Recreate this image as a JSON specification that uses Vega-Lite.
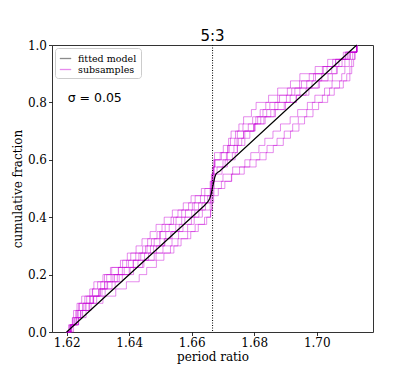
{
  "$schema": "https://vega.github.io/schema/vega-lite/v6.json",
  "width": 321,
  "height": 287,
  "autosize": "none",
  "padding": {"left": 52, "top": 45, "right": 42, "bottom": 42},
  "background": "white",
  "datasets": {
    "model": [
      {"x": 1.62, "y": 0}, {"x": 1.664, "y": 0.44}, {"x": 1.6652, "y": 0.454}, {"x": 1.6658, "y": 0.466},
      {"x": 1.6662, "y": 0.48}, {"x": 1.6665, "y": 0.495}, {"x": 1.6668, "y": 0.51}, {"x": 1.6671, "y": 0.526},
      {"x": 1.6674, "y": 0.54}, {"x": 1.6678, "y": 0.551}, {"x": 1.6684, "y": 0.557}, {"x": 1.669, "y": 0.561},
      {"x": 1.7128, "y": 1.0}
    ],
    "marks": [{"label": "5:3", "x": 1.66667, "y": 1.0}, {"label": "σ = 0.05", "x": 1.6203, "y": 0.814}],
    "sub": [
      {"s":1,"x":1.6200,"y":0},{"s":1,"x":1.6206,"y":0.025},{"s":1,"x":1.6218,"y":0.05},{"s":1,"x":1.6222,"y":0.075},{"s":1,"x":1.6233,"y":0.1},{"s":1,"x":1.6248,"y":0.125},{"s":1,"x":1.6274,"y":0.15},{"s":1,"x":1.6287,"y":0.175},{"s":1,"x":1.6316,"y":0.2},{"s":1,"x":1.6340,"y":0.225},{"s":1,"x":1.6379,"y":0.25},{"s":1,"x":1.6405,"y":0.275},{"s":1,"x":1.6443,"y":0.3},{"s":1,"x":1.6459,"y":0.325},{"s":1,"x":1.6489,"y":0.35},{"s":1,"x":1.6505,"y":0.375},{"s":1,"x":1.6534,"y":0.4},{"s":1,"x":1.6556,"y":0.425},{"s":1,"x":1.6590,"y":0.45},{"s":1,"x":1.6611,"y":0.475},{"s":1,"x":1.6642,"y":0.5},{"s":1,"x":1.6661,"y":0.525},{"s":1,"x":1.6665,"y":0.55},{"s":1,"x":1.6669,"y":0.575},{"s":1,"x":1.6673,"y":0.6},{"s":1,"x":1.6691,"y":0.625},{"s":1,"x":1.6701,"y":0.65},{"s":1,"x":1.6718,"y":0.675},{"s":1,"x":1.6726,"y":0.7},{"s":1,"x":1.6751,"y":0.725},{"s":1,"x":1.6766,"y":0.75},{"s":1,"x":1.6791,"y":0.775},{"s":1,"x":1.6806,"y":0.8},{"s":1,"x":1.6846,"y":0.825},{"s":1,"x":1.6875,"y":0.85},{"s":1,"x":1.6916,"y":0.875},{"s":1,"x":1.6946,"y":0.9},{"s":1,"x":1.6995,"y":0.925},{"s":1,"x":1.7035,"y":0.95},{"s":1,"x":1.7085,"y":0.975},{"s":1,"x":1.7128,"y":1},
      {"s":2,"x":1.6200,"y":0},{"s":2,"x":1.6211,"y":0.025},{"s":2,"x":1.6219,"y":0.05},{"s":2,"x":1.6232,"y":0.075},{"s":2,"x":1.6238,"y":0.1},{"s":2,"x":1.6264,"y":0.125},{"s":2,"x":1.6283,"y":0.15},{"s":2,"x":1.6309,"y":0.175},{"s":2,"x":1.6328,"y":0.2},{"s":2,"x":1.6365,"y":0.225},{"s":2,"x":1.6392,"y":0.25},{"s":2,"x":1.6431,"y":0.275},{"s":2,"x":1.6457,"y":0.3},{"s":2,"x":1.6480,"y":0.325},{"s":2,"x":1.6500,"y":0.35},{"s":2,"x":1.6528,"y":0.375},{"s":2,"x":1.6550,"y":0.4},{"s":2,"x":1.6580,"y":0.425},{"s":2,"x":1.6608,"y":0.45},{"s":2,"x":1.6641,"y":0.475},{"s":2,"x":1.6659,"y":0.5},{"s":2,"x":1.6663,"y":0.525},{"s":2,"x":1.6666,"y":0.55},{"s":2,"x":1.6669,"y":0.575},{"s":2,"x":1.6674,"y":0.6},{"s":2,"x":1.6711,"y":0.625},{"s":2,"x":1.6720,"y":0.65},{"s":2,"x":1.6738,"y":0.675},{"s":2,"x":1.6746,"y":0.7},{"s":2,"x":1.6781,"y":0.725},{"s":2,"x":1.6805,"y":0.75},{"s":2,"x":1.6840,"y":0.775},{"s":2,"x":1.6866,"y":0.8},{"s":2,"x":1.6903,"y":0.825},{"s":2,"x":1.6930,"y":0.85},{"s":2,"x":1.6968,"y":0.875},{"s":2,"x":1.6996,"y":0.9},{"s":2,"x":1.7033,"y":0.925},{"s":2,"x":1.7061,"y":0.95},{"s":2,"x":1.7098,"y":0.975},{"s":2,"x":1.7128,"y":1},
      {"s":3,"x":1.6200,"y":0},{"s":3,"x":1.6212,"y":0.025},{"s":3,"x":1.6226,"y":0.05},{"s":3,"x":1.6236,"y":0.075},{"s":3,"x":1.6252,"y":0.1},{"s":3,"x":1.6273,"y":0.125},{"s":3,"x":1.6302,"y":0.15},{"s":3,"x":1.6322,"y":0.175},{"s":3,"x":1.6353,"y":0.2},{"s":3,"x":1.6378,"y":0.225},{"s":3,"x":1.6413,"y":0.25},{"s":3,"x":1.6437,"y":0.275},{"s":3,"x":1.6468,"y":0.3},{"s":3,"x":1.6498,"y":0.325},{"s":3,"x":1.6517,"y":0.35},{"s":3,"x":1.6549,"y":0.375},{"s":3,"x":1.6568,"y":0.4},{"s":3,"x":1.6600,"y":0.425},{"s":3,"x":1.6622,"y":0.45},{"s":3,"x":1.6651,"y":0.475},{"s":3,"x":1.6660,"y":0.5},{"s":3,"x":1.6664,"y":0.525},{"s":3,"x":1.6668,"y":0.55},{"s":3,"x":1.6672,"y":0.575},{"s":3,"x":1.6707,"y":0.6},{"s":3,"x":1.6730,"y":0.625},{"s":3,"x":1.6746,"y":0.65},{"s":3,"x":1.6770,"y":0.675},{"s":3,"x":1.6786,"y":0.7},{"s":3,"x":1.6801,"y":0.725},{"s":3,"x":1.6811,"y":0.75},{"s":3,"x":1.6828,"y":0.775},{"s":3,"x":1.6837,"y":0.8},{"s":3,"x":1.6875,"y":0.825},{"s":3,"x":1.6906,"y":0.85},{"s":3,"x":1.6945,"y":0.875},{"s":3,"x":1.6976,"y":0.9},{"s":3,"x":1.7018,"y":0.925},{"s":3,"x":1.7051,"y":0.95},{"s":3,"x":1.7093,"y":0.975},{"s":3,"x":1.7128,"y":1},
      {"s":4,"x":1.6200,"y":0},{"s":4,"x":1.6214,"y":0.025},{"s":4,"x":1.6231,"y":0.05},{"s":4,"x":1.6244,"y":0.075},{"s":4,"x":1.6262,"y":0.1},{"s":4,"x":1.6286,"y":0.125},{"s":4,"x":1.6313,"y":0.15},{"s":4,"x":1.6345,"y":0.175},{"s":4,"x":1.6368,"y":0.2},{"s":4,"x":1.6403,"y":0.225},{"s":4,"x":1.6428,"y":0.25},{"s":4,"x":1.6462,"y":0.275},{"s":4,"x":1.6487,"y":0.3},{"s":4,"x":1.6514,"y":0.325},{"s":4,"x":1.6533,"y":0.35},{"s":4,"x":1.6560,"y":0.375},{"s":4,"x":1.6578,"y":0.4},{"s":4,"x":1.6610,"y":0.425},{"s":4,"x":1.6633,"y":0.45},{"s":4,"x":1.6661,"y":0.475},{"s":4,"x":1.6665,"y":0.5},{"s":4,"x":1.6668,"y":0.525},{"s":4,"x":1.6673,"y":0.55},{"s":4,"x":1.6697,"y":0.575},{"s":4,"x":1.6714,"y":0.6},{"s":4,"x":1.6739,"y":0.625},{"s":4,"x":1.6746,"y":0.65},{"s":4,"x":1.6760,"y":0.675},{"s":4,"x":1.6766,"y":0.7},{"s":4,"x":1.6798,"y":0.725},{"s":4,"x":1.6821,"y":0.75},{"s":4,"x":1.6853,"y":0.775},{"s":4,"x":1.6876,"y":0.8},{"s":4,"x":1.6915,"y":0.825},{"s":4,"x":1.6946,"y":0.85},{"s":4,"x":1.6985,"y":0.875},{"s":4,"x":1.7016,"y":0.9},{"s":4,"x":1.7048,"y":0.925},{"s":4,"x":1.7071,"y":0.95},{"s":4,"x":1.7103,"y":0.975},{"s":4,"x":1.7128,"y":1},
      {"s":5,"x":1.6200,"y":0},{"s":5,"x":1.6216,"y":0.025},{"s":5,"x":1.6237,"y":0.05},{"s":5,"x":1.6251,"y":0.075},{"s":5,"x":1.6272,"y":0.1},{"s":5,"x":1.6286,"y":0.125},{"s":5,"x":1.6307,"y":0.15},{"s":5,"x":1.6321,"y":0.175},{"s":5,"x":1.6342,"y":0.2},{"s":5,"x":1.6366,"y":0.225},{"s":5,"x":1.6398,"y":0.25},{"s":5,"x":1.6421,"y":0.275},{"s":5,"x":1.6452,"y":0.3},{"s":5,"x":1.6471,"y":0.325},{"s":5,"x":1.6497,"y":0.35},{"s":5,"x":1.6515,"y":0.375},{"s":5,"x":1.6542,"y":0.4},{"s":5,"x":1.6568,"y":0.425},{"s":5,"x":1.6602,"y":0.45},{"s":5,"x":1.6628,"y":0.475},{"s":5,"x":1.6662,"y":0.5},{"s":5,"x":1.6666,"y":0.525},{"s":5,"x":1.6670,"y":0.55},{"s":5,"x":1.6681,"y":0.575},{"s":5,"x":1.6700,"y":0.6},{"s":5,"x":1.6714,"y":0.625},{"s":5,"x":1.6735,"y":0.65},{"s":5,"x":1.6749,"y":0.675},{"s":5,"x":1.6770,"y":0.7},{"s":5,"x":1.6799,"y":0.725},{"s":5,"x":1.6835,"y":0.75},{"s":5,"x":1.6864,"y":0.775},{"s":5,"x":1.6900,"y":0.8},{"s":5,"x":1.6934,"y":0.825},{"s":5,"x":1.6975,"y":0.85},{"s":5,"x":1.7009,"y":0.875},{"s":5,"x":1.7050,"y":0.9},{"s":5,"x":1.7066,"y":0.925},{"s":5,"x":1.7090,"y":0.95},{"s":5,"x":1.7107,"y":0.975},{"s":5,"x":1.7128,"y":1},
      {"s":6,"x":1.6200,"y":0},{"s":6,"x":1.6216,"y":0.025},{"s":6,"x":1.6238,"y":0.05},{"s":6,"x":1.6249,"y":0.075},{"s":6,"x":1.6272,"y":0.1},{"s":6,"x":1.6296,"y":0.125},{"s":6,"x":1.6323,"y":0.15},{"s":6,"x":1.6355,"y":0.175},{"s":6,"x":1.6378,"y":0.2},{"s":6,"x":1.6414,"y":0.225},{"s":6,"x":1.6443,"y":0.25},{"s":6,"x":1.6480,"y":0.275},{"s":6,"x":1.6508,"y":0.3},{"s":6,"x":1.6537,"y":0.325},{"s":6,"x":1.6558,"y":0.35},{"s":6,"x":1.6587,"y":0.375},{"s":6,"x":1.6608,"y":0.4},{"s":6,"x":1.6634,"y":0.425},{"s":6,"x":1.6659,"y":0.45},{"s":6,"x":1.6664,"y":0.475},{"s":6,"x":1.6668,"y":0.5},{"s":6,"x":1.6672,"y":0.525},{"s":6,"x":1.6700,"y":0.55},{"s":6,"x":1.6731,"y":0.575},{"s":6,"x":1.6770,"y":0.6},{"s":6,"x":1.6789,"y":0.625},{"s":6,"x":1.6815,"y":0.65},{"s":6,"x":1.6834,"y":0.675},{"s":6,"x":1.6860,"y":0.7},{"s":6,"x":1.6884,"y":0.725},{"s":6,"x":1.6915,"y":0.75},{"s":6,"x":1.6939,"y":0.775},{"s":6,"x":1.6970,"y":0.8},{"s":6,"x":1.6994,"y":0.825},{"s":6,"x":1.7025,"y":0.85},{"s":6,"x":1.7049,"y":0.875},{"s":6,"x":1.7080,"y":0.9},{"s":6,"x":1.7090,"y":0.925},{"s":6,"x":1.7104,"y":0.95},{"s":6,"x":1.7115,"y":0.975},{"s":6,"x":1.7128,"y":1},
      {"s":7,"x":1.6200,"y":0},{"s":7,"x":1.6212,"y":0.025},{"s":7,"x":1.6226,"y":0.05},{"s":7,"x":1.6236,"y":0.075},{"s":7,"x":1.6252,"y":0.1},{"s":7,"x":1.6276,"y":0.125},{"s":7,"x":1.6307,"y":0.15},{"s":7,"x":1.6331,"y":0.175},{"s":7,"x":1.6362,"y":0.2},{"s":7,"x":1.6400,"y":0.225},{"s":7,"x":1.6447,"y":0.25},{"s":7,"x":1.6486,"y":0.275},{"s":7,"x":1.6532,"y":0.3},{"s":7,"x":1.6556,"y":0.325},{"s":7,"x":1.6587,"y":0.35},{"s":7,"x":1.6611,"y":0.375},{"s":7,"x":1.6641,"y":0.4},{"s":7,"x":1.6661,"y":0.425},{"s":7,"x":1.6666,"y":0.45},{"s":7,"x":1.6670,"y":0.475},{"s":7,"x":1.6685,"y":0.5},{"s":7,"x":1.6706,"y":0.525},{"s":7,"x":1.6727,"y":0.55},{"s":7,"x":1.6753,"y":0.575},{"s":7,"x":1.6786,"y":0.6},{"s":7,"x":1.6818,"y":0.625},{"s":7,"x":1.6841,"y":0.65},{"s":7,"x":1.6873,"y":0.675},{"s":7,"x":1.6896,"y":0.7},{"s":7,"x":1.6923,"y":0.725},{"s":7,"x":1.6941,"y":0.75},{"s":7,"x":1.6968,"y":0.775},{"s":7,"x":1.6986,"y":0.8},{"s":7,"x":1.7018,"y":0.825},{"s":7,"x":1.7041,"y":0.85},{"s":7,"x":1.7073,"y":0.875},{"s":7,"x":1.7096,"y":0.9},{"s":7,"x":1.7106,"y":0.925},{"s":7,"x":1.7112,"y":0.95},{"s":7,"x":1.7121,"y":0.975},{"s":7,"x":1.7128,"y":1},
      {"s":8,"x":1.6200,"y":0},{"s":8,"x":1.6222,"y":0.025},{"s":8,"x":1.6238,"y":0.05},{"s":8,"x":1.6262,"y":0.075},{"s":8,"x":1.6278,"y":0.1},{"s":8,"x":1.6316,"y":0.125},{"s":8,"x":1.6357,"y":0.15},{"s":8,"x":1.6391,"y":0.175},{"s":8,"x":1.6432,"y":0.2},{"s":8,"x":1.6456,"y":0.225},{"s":8,"x":1.6487,"y":0.25},{"s":8,"x":1.6511,"y":0.275},{"s":8,"x":1.6543,"y":0.3},{"s":8,"x":1.6566,"y":0.325},{"s":8,"x":1.6597,"y":0.35},{"s":8,"x":1.6621,"y":0.375},{"s":8,"x":1.6648,"y":0.4},{"s":8,"x":1.6660,"y":0.425},{"s":8,"x":1.6664,"y":0.45},{"s":8,"x":1.6667,"y":0.475},{"s":8,"x":1.6671,"y":0.5},{"s":8,"x":1.6695,"y":0.525},{"s":8,"x":1.6728,"y":0.55},{"s":8,"x":1.6768,"y":0.575},{"s":8,"x":1.6806,"y":0.6},{"s":8,"x":1.6838,"y":0.625},{"s":8,"x":1.6861,"y":0.65},{"s":8,"x":1.6893,"y":0.675},{"s":8,"x":1.6916,"y":0.7},{"s":8,"x":1.6943,"y":0.725},{"s":8,"x":1.6961,"y":0.75},{"s":8,"x":1.6988,"y":0.775},{"s":8,"x":1.7006,"y":0.8},{"s":8,"x":1.7035,"y":0.825},{"s":8,"x":1.7056,"y":0.85},{"s":8,"x":1.7085,"y":0.875},{"s":8,"x":1.7106,"y":0.9},{"s":8,"x":1.7112,"y":0.925},{"s":8,"x":1.7118,"y":0.95},{"s":8,"x":1.7123,"y":0.975},{"s":8,"x":1.7128,"y":1},
      {"s":9,"x":1.6200,"y":0},{"s":9,"x":1.6209,"y":0.025},{"s":9,"x":1.6221,"y":0.05},{"s":9,"x":1.6229,"y":0.075},{"s":9,"x":1.6241,"y":0.1},{"s":9,"x":1.6258,"y":0.125},{"s":9,"x":1.6282,"y":0.15},{"s":9,"x":1.6299,"y":0.175},{"s":9,"x":1.6321,"y":0.2},{"s":9,"x":1.6344,"y":0.225},{"s":9,"x":1.6372,"y":0.25},{"s":9,"x":1.6394,"y":0.275},{"s":9,"x":1.6422,"y":0.3},{"s":9,"x":1.6441,"y":0.325},{"s":9,"x":1.6467,"y":0.35},{"s":9,"x":1.6486,"y":0.375},{"s":9,"x":1.6512,"y":0.4},{"s":9,"x":1.6538,"y":0.425},{"s":9,"x":1.6573,"y":0.45},{"s":9,"x":1.6598,"y":0.475},{"s":9,"x":1.6631,"y":0.5},{"s":9,"x":1.6659,"y":0.525},{"s":9,"x":1.6663,"y":0.55},{"s":9,"x":1.6666,"y":0.575},{"s":9,"x":1.6669,"y":0.6},{"s":9,"x":1.6673,"y":0.625},{"s":9,"x":1.6715,"y":0.65},{"s":9,"x":1.6724,"y":0.675},{"s":9,"x":1.6740,"y":0.7},{"s":9,"x":1.6764,"y":0.725},{"s":9,"x":1.6795,"y":0.75},{"s":9,"x":1.6819,"y":0.775},{"s":9,"x":1.6850,"y":0.8},{"s":9,"x":1.6881,"y":0.825},{"s":9,"x":1.6920,"y":0.85},{"s":9,"x":1.6951,"y":0.875},{"s":9,"x":1.6990,"y":0.9},{"s":9,"x":1.7021,"y":0.925},{"s":9,"x":1.7060,"y":0.95},{"s":9,"x":1.7091,"y":0.975},{"s":9,"x":1.7128,"y":1},
      {"s":10,"x":1.6200,"y":0},{"s":10,"x":1.6213,"y":0.025},{"s":10,"x":1.6232,"y":0.05},{"s":10,"x":1.6244,"y":0.075},{"s":10,"x":1.6259,"y":0.1},{"s":10,"x":1.6284,"y":0.125},{"s":10,"x":1.6303,"y":0.15},{"s":10,"x":1.6329,"y":0.175},{"s":10,"x":1.6348,"y":0.2},{"s":10,"x":1.6384,"y":0.225},{"s":10,"x":1.6413,"y":0.25},{"s":10,"x":1.6449,"y":0.275},{"s":10,"x":1.6478,"y":0.3},{"s":10,"x":1.6512,"y":0.325},{"s":10,"x":1.6537,"y":0.35},{"s":10,"x":1.6572,"y":0.375},{"s":10,"x":1.6599,"y":0.4},{"s":10,"x":1.6623,"y":0.425},{"s":10,"x":1.6644,"y":0.45},{"s":10,"x":1.6659,"y":0.475},{"s":10,"x":1.6662,"y":0.5},{"s":10,"x":1.6665,"y":0.525},{"s":10,"x":1.6667,"y":0.55},{"s":10,"x":1.6670,"y":0.575},{"s":10,"x":1.6674,"y":0.6},{"s":10,"x":1.6695,"y":0.625},{"s":10,"x":1.6716,"y":0.65},{"s":10,"x":1.6745,"y":0.675},{"s":10,"x":1.6766,"y":0.7},{"s":10,"x":1.6803,"y":0.725},{"s":10,"x":1.6831,"y":0.75},{"s":10,"x":1.6868,"y":0.775},{"s":10,"x":1.6896,"y":0.8},{"s":10,"x":1.6935,"y":0.825},{"s":10,"x":1.6966,"y":0.85},{"s":10,"x":1.7005,"y":0.875},{"s":10,"x":1.7036,"y":0.9},{"s":10,"x":1.7063,"y":0.925},{"s":10,"x":1.7081,"y":0.95},{"s":10,"x":1.7107,"y":0.975},{"s":10,"x":1.7128,"y":1}
    ]
  },
  "layer": [
    {
      "data": {"name": "sub"},
      "mark": {"type": "line", "interpolate": "step-after", "strokeWidth": 1, "opacity": 0.45},
      "encoding": {
        "x": {"field": "x", "type": "quantitative", "scale": {"domain": [1.6153, 1.718], "nice": false, "zero": false},
              "axis": {"values": [1.62, 1.64, 1.66, 1.68, 1.70], "format": ".2f", "title": "period ratio", "titlePadding": 3}},
        "y": {"field": "y", "type": "quantitative", "scale": {"domain": [0, 1], "nice": false},
              "axis": {"values": [0, 0.2, 0.4, 0.6, 0.8, 1.0], "format": ".1f", "title": "cumulative fraction", "titlePadding": 3}},
        "detail": {"field": "s"},
        "color": {"datum": "subsamples", "type": "nominal",
          "scale": {"domain": ["fitted model", "subsamples"], "range": ["black", "#c800d8"]},
          "legend": {"title": null, "orient": "top-left", "offset": 3, "padding": 4, "strokeColor": "#cccccc", "cornerRadius": 3, "fillColor": "white",
                     "symbolType": "stroke", "symbolSize": 130, "symbolStrokeWidth": 1.3, "labelFont": "DejaVu Serif", "labelFontSize": 9.5, "labelColor": "black", "labelOffset": 6, "rowPadding": 0}}
      }
    },
    {
      "data": {"name": "model"},
      "mark": {"type": "line", "strokeWidth": 1.2},
      "encoding": {
        "x": {"field": "x", "type": "quantitative"},
        "y": {"field": "y", "type": "quantitative"},
        "color": {"datum": "fitted model", "type": "nominal"}
      }
    },
    {
      "data": {"values": [{"x": 1.66667}]},
      "mark": {"type": "rule", "color": "black", "strokeWidth": 1, "strokeDash": [1, 1.5]},
      "encoding": {"x": {"field": "x", "type": "quantitative"}}
    },
    {
      "data": {"name": "marks"},
      "transform": [{"filter": "datum.label == '5:3'"}],
      "mark": {"type": "text", "align": "center", "baseline": "alphabetic", "dy": -4, "font": "DejaVu Sans", "fontSize": 15, "color": "black"},
      "encoding": {"x": {"field": "x", "type": "quantitative"}, "y": {"field": "y", "type": "quantitative"}, "text": {"field": "label"}}
    },
    {
      "data": {"name": "marks"},
      "transform": [{"filter": "datum.label != '5:3'"}],
      "mark": {"type": "text", "align": "left", "baseline": "middle", "font": "DejaVu Sans", "fontSize": 12.5, "color": "black"},
      "encoding": {"x": {"field": "x", "type": "quantitative"}, "y": {"field": "y", "type": "quantitative"}, "text": {"field": "label"}}
    }
  ],
  "config": {
    "view": {"stroke": "#333333", "strokeWidth": 1},
    "axis": {"grid": false, "domain": false, "labelFont": "DejaVu Serif", "labelFontSize": 12, "labelColor": "black",
             "titleFont": "DejaVu Serif", "titleFontSize": 12, "titleFontWeight": "normal", "titleColor": "black",
             "tickColor": "black", "tickSize": 3.5, "tickWidth": 0.8, "labelPadding": 2}
  }
}
